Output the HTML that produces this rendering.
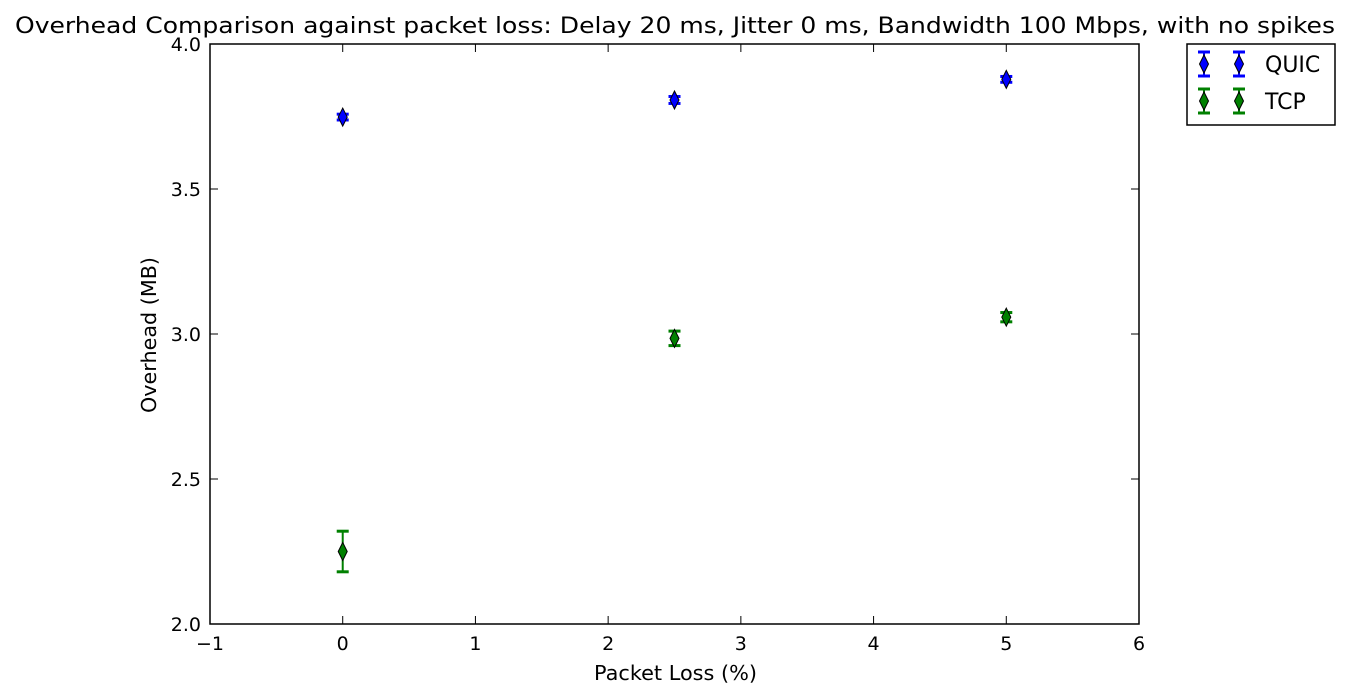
<!DOCTYPE html>
<html><head><meta charset="utf-8"><style>
body{margin:0;background:#fff;}
svg{display:block;font-family:"DejaVu Sans","Liberation Sans",sans-serif;}
</style></head><body>
<svg id="chart" width="1351" height="699" xmlns="http://www.w3.org/2000/svg">
<text x="15" y="33" font-size="22" textLength="1320" lengthAdjust="spacingAndGlyphs">Overhead Comparison against packet loss: Delay 20 ms, Jitter 0 ms, Bandwidth 100 Mbps, with no spikes</text>
<g id="axes"></g>
<g id="marks"></g>
<rect x="210" y="44" width="929" height="580" fill="none" stroke="#000" stroke-width="1.5"/>
<text x="594" y="680" font-size="20" textLength="163" lengthAdjust="spacingAndGlyphs">Packet Loss (%)</text>
<text transform="translate(156,413) rotate(-90)" font-size="20" textLength="156" lengthAdjust="spacingAndGlyphs">Overhead (MB)</text>
<g>
<rect x="1187" y="44" width="148" height="81" fill="#fff" stroke="#000" stroke-width="1.5"/>
<g id="legend-items"></g>
</g>
</svg>
<script>
const categories=[0,2.5,5];
const quicVals=[3.748,3.807,3.878];
const quicErr=[0.01,0.012,0.01];
const tcpVals=[2.25,2.985,3.058];
const tcpErr=[0.07,0.025,0.016];
const xTicks=[-1,0,1,2,3,4,5,6];
const yTicks=[2.0,2.5,3.0,3.5,4.0];
const NS="http://www.w3.org/2000/svg";
const X=v=>210+(v+1)*929/7;
const Y=v=>624-(v-2)*290;
function mk(t,a,p){const e=document.createElementNS(NS,t);for(const k in a)e.setAttribute(k,a[k]);p.appendChild(e);return e;}
const axes=document.getElementById('axes');
xTicks.forEach(t=>{
  const g=mk('g',{},axes);
  
  
  mk('line',{x1:X(t),x2:X(t),y1:624,y2:616,stroke:'#000'},g);
  mk('line',{x1:X(t),x2:X(t),y1:44,y2:52,stroke:'#000'},g);
  const tx=mk('text',{x:X(t),y:650,'font-size':19,'text-anchor':'middle'},g);tx.textContent=(t<0?'\u2212'+(-t):t);
});
yTicks.forEach(t=>{
  const g=mk('g',{},axes);
  
  
  mk('line',{x1:210,x2:218,y1:Y(t),y2:Y(t),stroke:'#000'},g);
  mk('line',{x1:1139,x2:1131,y1:Y(t),y2:Y(t),stroke:'#000'},g);
  const tx=mk('text',{x:201,y:Y(t)+7,'font-size':19,'text-anchor':'end'},g);tx.textContent=t.toFixed(1);
});
const marks=document.getElementById('marks');
function point(g,x,y,yl,yh,col){
  mk('line',{x1:x,x2:x,y1:yl,y2:yh,stroke:col,'stroke-width':2},g);
  mk('line',{x1:x-6,x2:x+6,y1:yl,y2:yl,stroke:col,'stroke-width':3},g);
  mk('line',{x1:x-6,x2:x+6,y1:yh,y2:yh,stroke:col,'stroke-width':3},g);
  mk('polygon',{points:`${x},${y-9} ${x+4.5},${y} ${x},${y+9} ${x-4.5},${y}`,fill:col,stroke:'#000','stroke-width':1},g);
}
function series(vals,errs,col,name){
  vals.forEach((v,i)=>{
    const g=mk('g',{},marks);
    
    
    point(g,X(categories[i]),Y(v),Y(v-errs[i]),Y(v+errs[i]),col);
  });
}
series(quicVals,quicErr,'#0000ff','quic');
series(tcpVals,tcpErr,'#008000','tcp');
const li=document.getElementById('legend-items');
[['QUIC','#0000ff',64],['TCP','#008000',101]].forEach(([n,c,y])=>{
  const g=mk('g',{},li);
  
  
  point(g,1204,y,y+12,y-12,c);
  point(g,1239,y,y+12,y-12,c);
  const t=mk('text',{x:1265,y:y+8,'font-size':22},g);t.textContent=n;
});
</script>
</body></html>
